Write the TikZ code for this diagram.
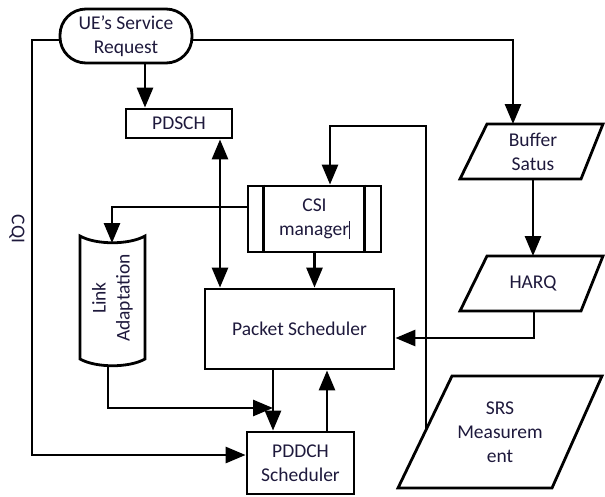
\documentclass[tikz,border=0pt]{standalone}
\usepackage{fontspec}
\setmainfont{Carlito}
\usetikzlibrary{arrows.meta}
\definecolor{txt}{RGB}{30,25,60}
\begin{document}
\begin{tikzpicture}[x=1pt,y=-1pt,
  every node/.style={font=\fontsize{19.5}{24}\selectfont, text=txt},
  lw/.style={line width=2.8pt, draw=black},
  boxn/.style={lw, inner sep=0pt, align=center},
  tip/.tip={Triangle[length=20pt,width=16pt]},
  conn/.style={lw, -tip},
  dconn/.style={lw, tip-tip},
  lbl/.style={align=center, inner sep=0pt}
]
\useasboundingbox (0,0) rectangle (605,496);

% nodes
\node[boxn, rounded corners=26pt, minimum width=132pt, minimum height=54pt] (ue) at (126,36) {UE’s Service\\Request};
\node[boxn, minimum width=106pt, minimum height=29pt] (pdsch) at (179,123.5) {PDSCH};
\node[boxn, minimum width=133pt, minimum height=66pt] (csi) at (314.5,219) {CSI\\manager\rule[-4pt]{0.9pt}{18pt}};
\draw[lw] ([xshift=17pt]csi.north west) -- ([xshift=17pt]csi.south west);
\draw[lw] ([xshift=-18pt]csi.north east) -- ([xshift=-18pt]csi.south east);
\node[boxn, minimum width=189pt, minimum height=80pt] (ps) at (299.5,329) {Packet Scheduler};
\node[boxn, minimum width=107pt, minimum height=62pt] (pddch) at (300.5,463) {PDDCH\\Scheduler};

% link adaptation (tape shape)
\draw[lw] (80,236) .. controls (96,245) and (129,245) .. (145,236) -- (145,359)
  .. controls (129,368) and (96,368) .. (80,359) -- cycle;
\node[lbl, rotate=90] (la) at (112.5,298) {Link\\Adaptation};
\coordinate (latop) at (112,243);
\coordinate (labot) at (108,366);

% parallelograms
\draw[lw] (487,124) -- (603,124) -- (581,179) -- (460,179) -- cycle;
\node[lbl] (buf) at (533,152) {Buffer\\Satus};
\coordinate (buftop) at (513,124);
\coordinate (bufbot) at (533,179);

\draw[lw] (487,256) -- (603,256) -- (581,311) -- (460,311) -- cycle;
\node[lbl] (harq) at (533,283.5) {HARQ};
\coordinate (harqtop) at (533,256);
\coordinate (harqbot) at (534,311);

\draw[lw] (452,376) -- (602,376) -- (552,488) -- (398,488) -- cycle;
\node[lbl] (srs) at (500,432) {SRS\\Measurem\\ent};
\coordinate (srsfb) at (426,430);

\node[lbl, rotate=-90] (cqi) at (17,229) {CQI};

% connectors
\draw[conn] ([yshift=-4pt]ue.west) -- (32,40) -- (32,455) -- ([yshift=8pt]pddch.west);
\draw[conn] ([yshift=-4pt]ue.east) -| (buftop);
\draw[conn] ([xshift=19pt]ue.south) -- ([xshift=-34pt]pdsch.north);
\draw[dconn] ([xshift=41pt]pdsch.south) -- ([xshift=41pt]pdsch.south |- ps.north);
\draw[conn] ([yshift=12pt]csi.west) -| (latop);
\draw[conn] (csi.south) -- (csi.south |- ps.north);
\draw[conn] (srsfb) -- (426,126) -| ([xshift=15.5pt]csi.north);
\coordinate (psd) at ([xshift=-26.5pt]ps.south);
\coordinate (join) at (273,408);
\draw[conn] (labot) |- (join);
\draw[conn] (psd) -- (psd |- pddch.north);
\draw[conn] ([xshift=26.5pt]pddch.north) -- ([xshift=26.5pt]pddch.north |- ps.south);
\draw[conn] (bufbot) -- (harqtop);
\draw[conn] (harqbot) |- ([yshift=-9pt]ps.east);
\end{tikzpicture}
\end{document}
